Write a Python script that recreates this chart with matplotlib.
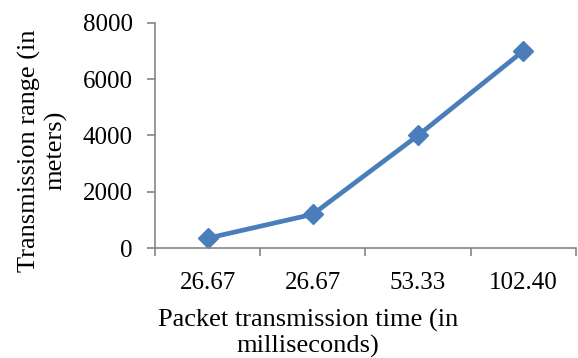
import matplotlib

matplotlib.use("Agg")
import matplotlib.pyplot as plt
from matplotlib.ticker import FixedLocator

# packet transmission time (ms) vs transmission range (m)
categories = ["26.67", "26.67", "53.33", "102.40"]
range_m = [350, 1200, 4000, 7000]
y_ticks = [0, 2000, 4000, 6000, 8000]

plt.rcParams["font.family"] = ["Liberation Serif", "DejaVu Serif"]
axis_grey = "#868686"
line_blue = "#4A7EBB"

fig = plt.figure(figsize=(5.78, 3.58), dpi=100)
ax = fig.add_axes([0.268, 0.307, 0.7284, 0.6294])

x = list(range(len(categories)))
ax.plot(x, range_m, color=line_blue, lw=3.4, marker="D", ms=10,
        markeredgecolor=line_blue, solid_joinstyle="round", clip_on=False)

ax.set_xlim(-0.5, len(categories) - 0.5)
ax.set_ylim(0, 8000)
ax.set_yticks(y_ticks)
ax.set_xticks(x)
ax.set_xticklabels(categories)
ax.xaxis.set_minor_locator(FixedLocator([i - 0.5 for i in range(len(categories) + 1)]))

for side in ("top", "right"):
    ax.spines[side].set_visible(False)
for side in ("left", "bottom"):
    ax.spines[side].set_color(axis_grey)
    ax.spines[side].set_linewidth(1.2)

ax.tick_params(axis="y", length=6, width=1.2, color=axis_grey, labelsize=18, pad=10)
ax.tick_params(axis="x", which="major", length=0, labelsize=18, pad=17)
ax.tick_params(axis="x", which="minor", length=6, width=1.2, color=axis_grey)

fig.text(0.533, 0.0, "Packet transmission time (in\nmilliseconds)", ha="center",
         va="bottom", fontsize=19, linespacing=1.15)
fig.text(0.074, 0.58, "Transmission range (in\nmeters)", ha="center", va="center",
         rotation=90, fontsize=19, linespacing=1.15)

fig.savefig("out.png", dpi=100)
